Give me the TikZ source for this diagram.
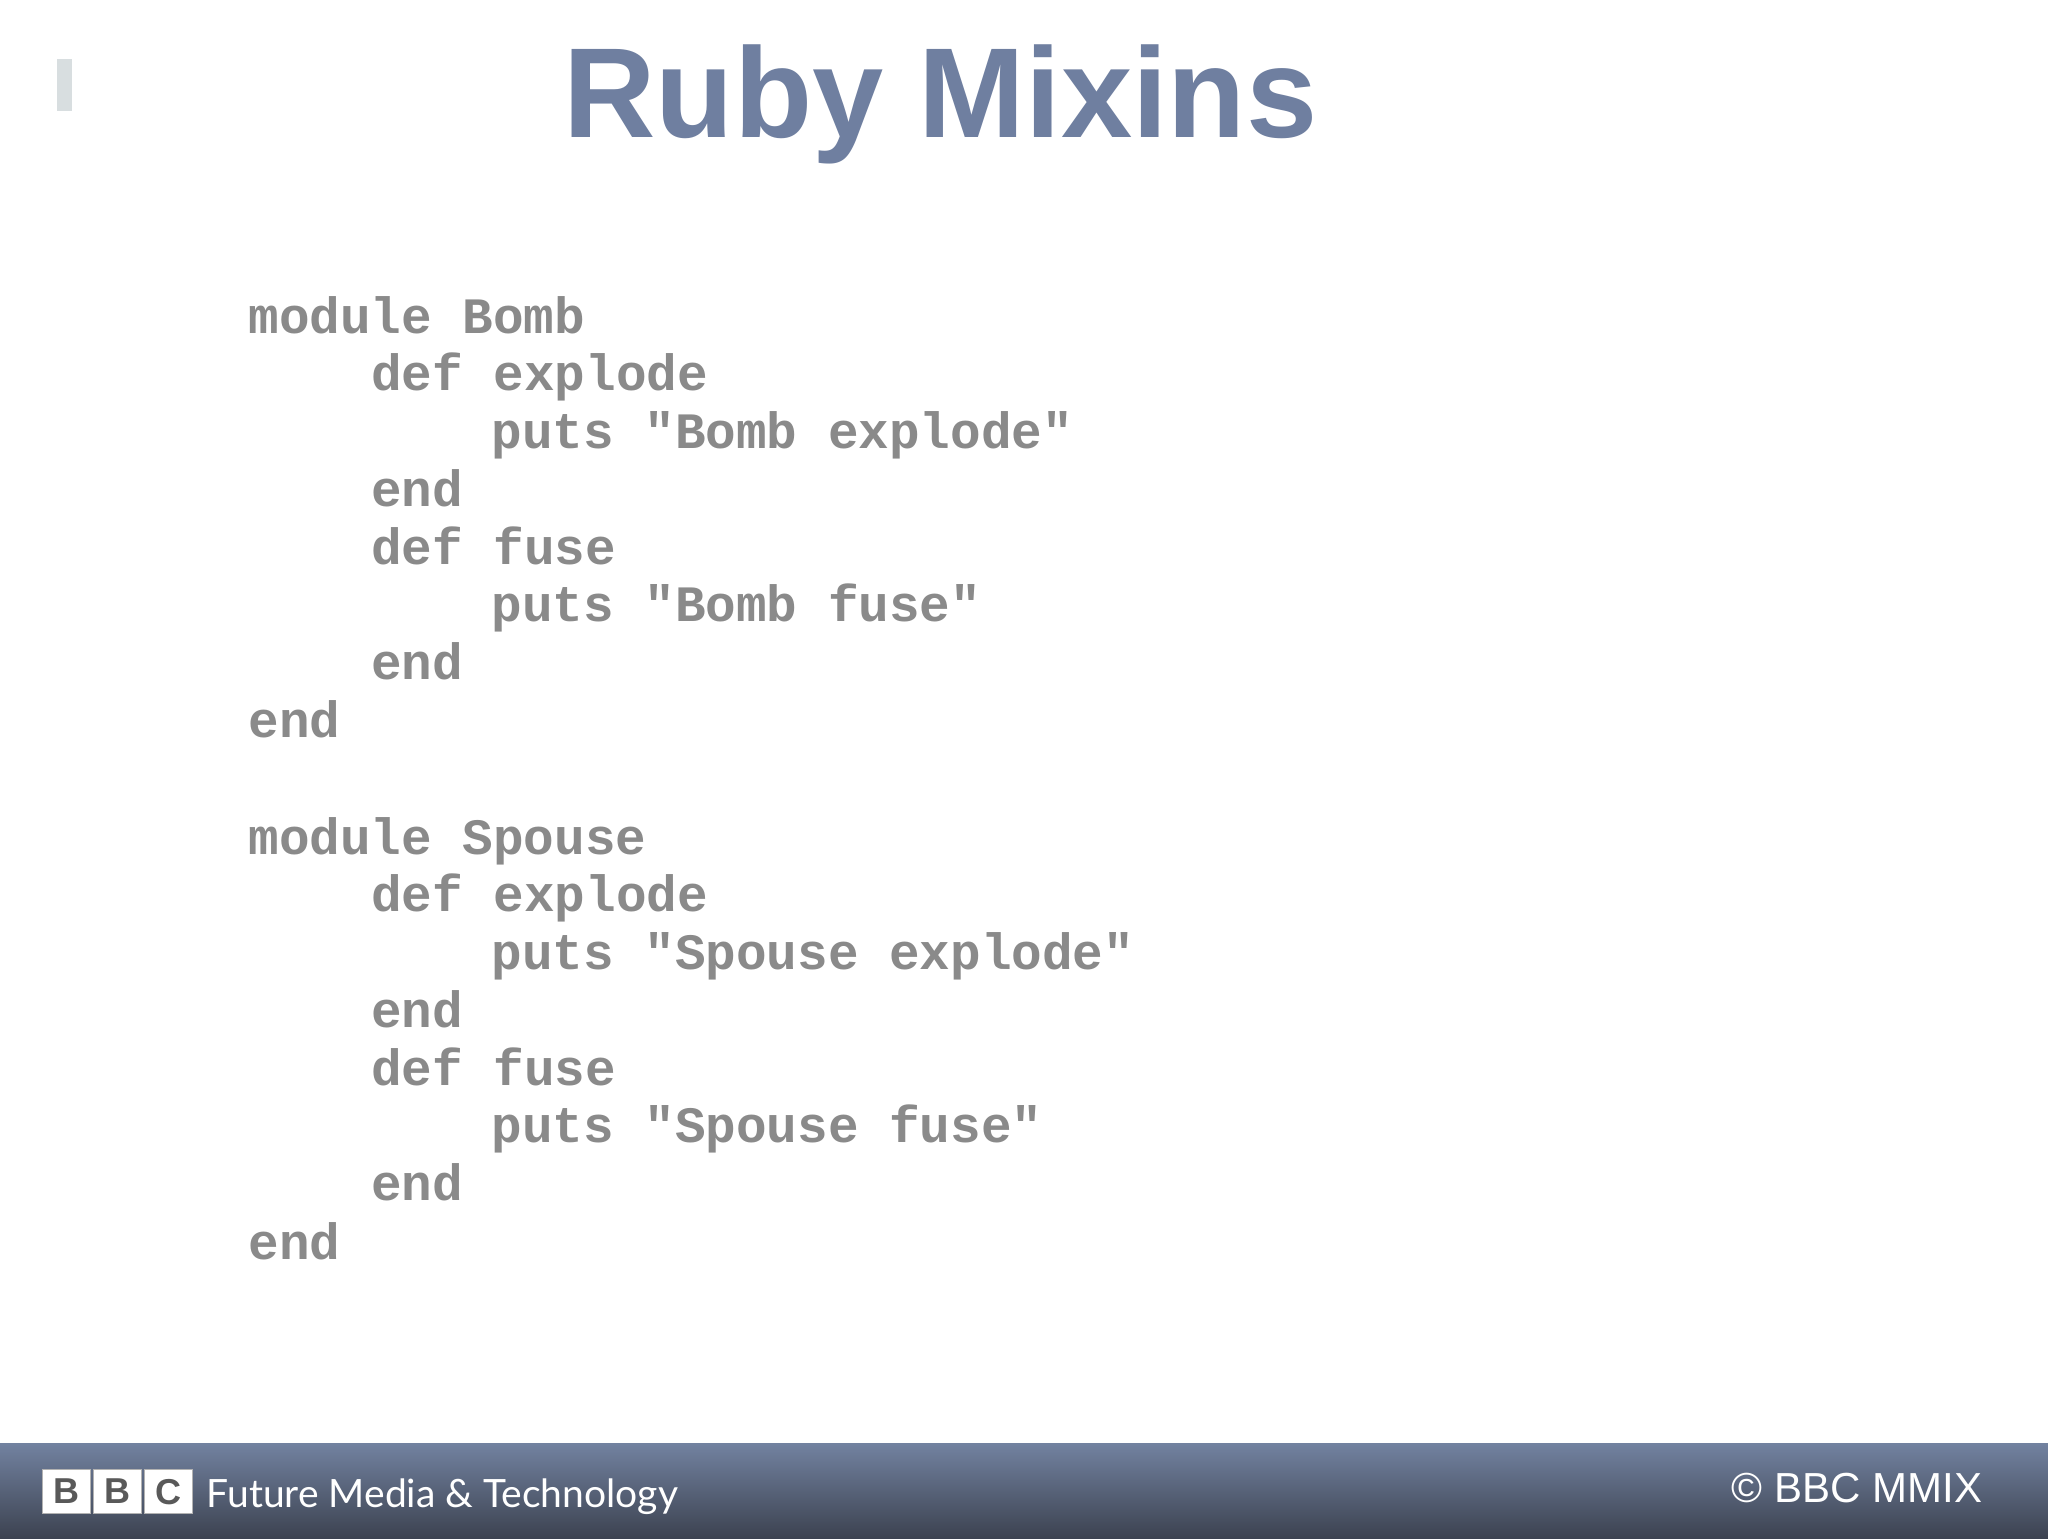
\documentclass[tikz,border=0pt]{standalone}
\usepackage{fontspec}
\setmainfont{Liberation Sans}
\newfontfamily\codefont{Liberation Mono}
\newfontfamily\footfont{Lato}
\definecolor{titlec}{HTML}{6F7FA0}
\definecolor{codec}{HTML}{8A8A8A}
\definecolor{footA}{HTML}{7282A0}
\definecolor{footB}{HTML}{3C4250}
\definecolor{markc}{HTML}{D8DEE0}
\begin{document}
\begin{tikzpicture}[x=0.653pt,y=-0.653pt,
  code/.style={anchor=base west,inner sep=0pt,text=codec,font=\codefont\bfseries\fontsize{25.5}{29}\selectfont},
  bbcbox/.style={fill=white,draw=gray!60,line width=0.5pt,minimum width=24pt,minimum height=22pt,inner sep=0pt,font=\bfseries\fontsize{18}{18}\selectfont,text=gray!70!black}]
\useasboundingbox (0,0) rectangle (1568,1178);
\fill[white] (0,0) rectangle (1568,1178);
\fill[markc] (44,45) rectangle (55,85);
\node[anchor=base,inner sep=0pt,text=titlec,font=\bfseries\fontsize{64}{64}\selectfont] (title) at (720,105) {Ruby Mixins};
\foreach \t/\x/\y [count=\i] in {
 {module Bomb}/190/255, {def explode}/284/299, {puts "Bomb explode"}/376/343, {end}/284/388,
 {def fuse}/284/432, {puts "Bomb fuse"}/376/476, {end}/284/520, {end}/190/565,
 {module Spouse}/190/654, {def explode}/284/698, {puts "Spouse explode"}/376/742, {end}/284/787,
 {def fuse}/284/831, {puts "Spouse fuse"}/376/875, {end}/284/919, {end}/190/964}
 \node[code] (c\i) at (\x,\y) {\t};
\shade[top color=footA,bottom color=footB] (0,1105) rectangle (1568,1178);
\node[bbcbox] (b1) at (51,1142) {B};
\node[bbcbox] (b2) at (90,1142) {B};
\node[bbcbox] (b3) at (129,1142) {C};
\node[anchor=base west,inner sep=0pt,text=white,font=\footfont\fontsize{19.5}{20}\selectfont] (fm) at (158,1154) {Future Media \& Technology};
\node[anchor=base east,inner sep=0pt,text=white,font=\fontsize{21}{21}\selectfont] (copy) at (1518,1150) {© BBC MMIX};
\end{tikzpicture}
\end{document}
